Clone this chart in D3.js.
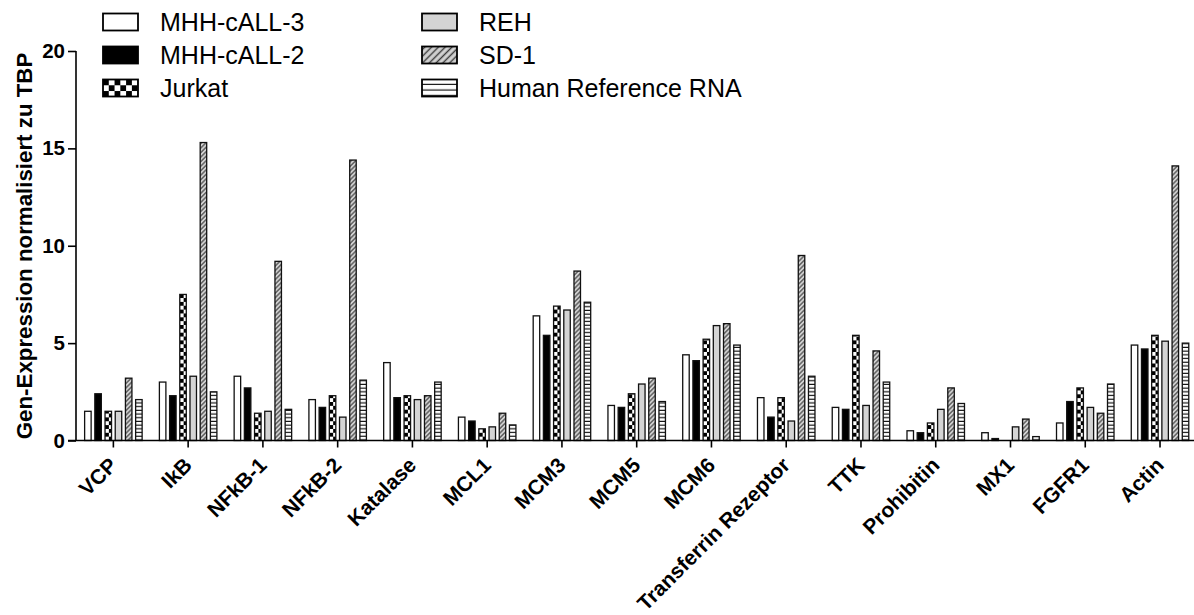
<!DOCTYPE html>
<html>
<head>
<meta charset="utf-8">
<script src="https://cdn.jsdelivr.net/npm/d3@7"></script>
<style>
  html, body { margin: 0; padding: 0; background: #fff; }
  svg { display: block; font-family: "Liberation Sans", Arial, sans-serif; }
</style>
</head>
<body>
<svg id="chart" width="1194" height="615"></svg>
<script>
// Genes on the x axis
const genes = ["VCP", "IkB", "NFkB-1", "NFkB-2", "Katalase", "MCL1", "MCM3", "MCM5",
  "MCM6", "Transferrin Rezeptor", "TTK", "Prohibitin", "MX1", "FGFR1", "Actin"];

// Cell lines / samples
const samples = ["MHH-cALL-3", "MHH-cALL-2", "Jurkat", "REH", "SD-1", "Human Reference RNA"];

// Expression normalised to TBP, one array per sample (same order as genes)
const mhhCall3 = [1.5, 3.0, 3.3, 2.1, 4.0, 1.2, 6.4, 1.8, 4.4, 2.2, 1.7, 0.5, 0.4, 0.9, 4.9];
const mhhCall2 = [2.4, 2.3, 2.7, 1.7, 2.2, 1.0, 5.4, 1.7, 4.1, 1.2, 1.6, 0.4, 0.1, 2.0, 4.7];
const jurkat   = [1.5, 7.5, 1.4, 2.3, 2.3, 0.6, 6.9, 2.4, 5.2, 2.2, 5.4, 0.9, 0.0, 2.7, 5.4];
const reh      = [1.5, 3.3, 1.5, 1.2, 2.1, 0.7, 6.7, 2.9, 5.9, 1.0, 1.8, 1.6, 0.7, 1.7, 5.1];
const sd1      = [3.2, 15.3, 9.2, 14.4, 2.3, 1.4, 8.7, 3.2, 6.0, 9.5, 4.6, 2.7, 1.1, 1.4, 14.1];
const humanRef = [2.1, 2.5, 1.6, 3.1, 3.0, 0.8, 7.1, 2.0, 4.9, 3.3, 3.0, 1.9, 0.2, 2.9, 5.0];
const seriesValues = [mhhCall3, mhhCall2, jurkat, reh, sd1, humanRef];

const yTicks = [0, 5, 10, 15, 20];
const yTitle = "Gen-Expression normalisiert zu TBP";

const svg = d3.select("#chart");
const defs = svg.append("defs");

// Fill patterns (bar scale and larger legend scale)
function makePatterns(suffix, k) {
  // checkerboard
  const c = 3.85 * k;
  const chk = defs.append("pattern").attr("id", "checker" + suffix)
    .attr("patternUnits", "userSpaceOnUse").attr("width", 2 * c).attr("height", 2 * c);
  chk.append("rect").attr("width", 2 * c).attr("height", 2 * c).attr("fill", "#fff");
  chk.append("rect").attr("x", 0).attr("y", 0).attr("width", c).attr("height", c).attr("fill", "#000");
  chk.append("rect").attr("x", c).attr("y", c).attr("width", c).attr("height", c).attr("fill", "#000");

  // diagonal hatching
  const h = 3.2 * k;
  const hat = defs.append("pattern").attr("id", "hatch" + suffix)
    .attr("patternUnits", "userSpaceOnUse").attr("width", h).attr("height", h)
    .attr("patternTransform", "rotate(45)");
  hat.append("rect").attr("width", h).attr("height", h).attr("fill", "#d2d2d2");
  hat.append("line").attr("x1", h / 2).attr("x2", h / 2).attr("y1", 0).attr("y2", h)
    .attr("stroke", "#3a3a3a").attr("stroke-width", 1.1 * Math.min(k, 1.3));

  // horizontal lines
  const s = 3.7 * k;
  const hz = defs.append("pattern").attr("id", "hlines" + suffix)
    .attr("patternUnits", "userSpaceOnUse").attr("width", 10).attr("height", s);
  hz.append("rect").attr("width", 10).attr("height", s).attr("fill", "#fff");
  hz.append("line").attr("x1", 0).attr("x2", 10).attr("y1", s - 0.6).attr("y2", s - 0.6)
    .attr("stroke", "#000").attr("stroke-width", 1.1);
}
makePatterns("", 1);
makePatterns("L", 1.5);

function fillFor(i, suffix) {
  return ["#ffffff", "#000000", `url(#checker${suffix})`, "#d4d4d4",
    `url(#hatch${suffix})`, `url(#hlines${suffix})`][i];
}

// Scales
const x0 = d3.scaleBand().domain(genes).range([76, 76 + 15 * 74.76]).padding(0);
const x1 = d3.scaleBand().domain(samples).range([-29.35, 29.35])
  .paddingInner(0.245).paddingOuter(0);
const y = d3.scaleLinear().domain([0, 20]).range([440.5, 51]);

// Bars
const groups = svg.append("g").selectAll("g.gene")
  .data(genes).join("g")
  .attr("class", "gene")
  .attr("transform", d => `translate(${x0(d) + x0.bandwidth() / 2},0)`);

groups.each(function (gene, gi) {
  const g = d3.select(this);
  samples.forEach((s, si) => {
    const v = seriesValues[si][gi];
    if (v <= 0) return;
    const bx = x1(s);
    const bar = g.append("g").attr("transform", `translate(${bx + 0.6},${y(0)})`);
    bar.append("rect")
      .attr("x", 0)
      .attr("y", y(v) - y(0))
      .attr("width", x1.bandwidth() - 1.2)
      .attr("height", y(0) - y(v))
      .attr("fill", fillFor(si, ""))
      .attr("stroke", "#111")
      .attr("stroke-width", 1.3);
  });
});

// Y axis
const yAxis = d3.axisLeft(y).tickValues(yTicks).tickSize(8).tickPadding(3)
  .tickFormat(d3.format("d"));
const gy = svg.append("g").attr("transform", "translate(76,0)").call(yAxis);
gy.select(".domain").attr("stroke-width", 1.6).attr("d", `M0,${y(20)}V${y(0)}`);
gy.selectAll(".tick line").attr("stroke-width", 1.6);
gy.selectAll(".tick text")
  .attr("font-size", 20.5).attr("font-weight", "bold")
  .attr("font-family", "Liberation Sans, Arial, sans-serif").attr("fill", "#000");

// X axis
const xAxis = d3.axisBottom(x0).tickSize(7).tickFormat("");
const gx = svg.append("g").attr("transform", `translate(0,${y(0)})`).call(xAxis);
gx.select(".domain").attr("stroke-width", 1.6).attr("d", "M68,0H1194");
gx.selectAll(".tick line").attr("stroke-width", 1.6);

// Rotated gene labels
svg.append("g").selectAll("text")
  .data(genes).join("text")
  .attr("transform", d => `translate(${x0(d) + x0.bandwidth() / 2 + 5},${y(0) + 26}) rotate(-45)`)
  .attr("text-anchor", "end")
  .attr("font-size", 21).attr("font-weight", "bold").attr("fill", "#000")
  .text(d => d);

// Y axis title
svg.append("text")
  .attr("transform", `translate(32,246) rotate(-90)`)
  .attr("text-anchor", "middle")
  .attr("font-size", 22.3).attr("font-weight", "bold").attr("fill", "#000")
  .text(yTitle);

// Legend: two columns of three entries
const legend = svg.append("g");
samples.forEach((s, i) => {
  const col = Math.floor(i / 3), row = i % 3;
  const sx = col === 0 ? 103 : 422;
  const cy = 22 + row * 33;
  const item = legend.append("g").attr("transform", `translate(${sx},${cy - 8.5})`);
  item.append("rect")
    .attr("x", 0).attr("y", 0).attr("width", 35).attr("height", 17)
    .attr("fill", fillFor(i, "L"))
    .attr("stroke", "#000").attr("stroke-width", 1.8);
  item.append("text")
    .attr("x", 57).attr("y", 17)
    .attr("font-size", 25).attr("fill", "#000")
    .text(s);
});
</script>
</body>
</html>
